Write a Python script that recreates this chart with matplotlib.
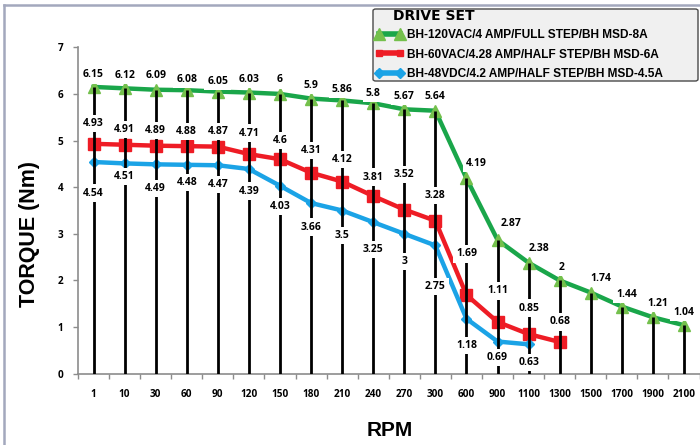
import matplotlib
matplotlib.use("Agg")
import matplotlib.pyplot as plt
import numpy as np
from matplotlib.lines import Line2D
from matplotlib.patches import FancyBboxPatch

# ---------------- data ----------------
rpm_labels = ["1", "10", "30", "60", "90", "120", "150", "180", "210", "240",
              "270", "300", "600", "900", "1100", "1300", "1500", "1700", "1900", "2100"]
torque_120vac = [6.15, 6.12, 6.09, 6.08, 6.05, 6.03, 6, 5.9, 5.86, 5.8,
                 5.67, 5.64, 4.19, 2.87, 2.38, 2, 1.74, 1.44, 1.21, 1.04]
torque_60vac = [4.93, 4.91, 4.89, 4.88, 4.87, 4.71, 4.6, 4.31, 4.12, 3.81,
                3.52, 3.28, 1.69, 1.11, 0.85, 0.68]
torque_48vdc = [4.54, 4.51, 4.49, 4.48, 4.47, 4.39, 4.03, 3.66, 3.5, 3.25,
                3, 2.75, 1.18, 0.69, 0.63]
series_names = ["BH-120VAC/4 AMP/FULL STEP/BH MSD-8A",
                "BH-60VAC/4.28 AMP/HALF STEP/BH MSD-6A",
                "BH-48VDC/4.2 AMP/HALF STEP/BH MSD-4.5A"]
legend_title = "DRIVE SET"

# label placement (pixel offsets of data labels from their points)
green_dy = [12, 13, 14, 11, 10, 13, 14, 13, 11, 10, 13, 14, 15, 16, 14, 13, 14, 12, 14, 13]
green_dx = [0, 0, 0, 0, 0, 0, 0, 0, 0, 0, 0, 0, 10, 14, 10, 2, 10, 5, 5, 0]
red_dy = [20, 15, 15, 15, 15, 21, 19, 22, 22, 19, 35, 25, 41, 31, 26, 20]
blue_dy = [-31, -13, -24, -18, -19, -22, -21, -24, -25, -27, -28, -41, -27, -16, -18]

GREEN = "#1aa64a"
GREEN_M = "#74c04c"
RED = "#ee1c25"
BLUE = "#1ba3e6"

W, H = 700, 445
fig = plt.figure(figsize=(W / 100, H / 100), dpi=100)
fig.patch.set_facecolor("white")

ax_l, ax_r = 78 / W, 699.5 / W
ax_b, ax_t = 1 - 373.7 / H, 1 - 47.3 / H
ax = fig.add_axes([ax_l, ax_b, ax_r - ax_l, ax_t - ax_b])

x = np.arange(len(rpm_labels))
lw = 3.2
ax.plot(x[:len(torque_120vac)], torque_120vac, color=GREEN, lw=lw, marker="^",
        ms=8, mfc=GREEN_M, mec=GREEN_M, zorder=2)
ax.plot(x[:len(torque_60vac)], torque_60vac, color=RED, lw=lw, marker="s",
        ms=8, mfc=RED, mec=RED, zorder=2)
ax.plot(x[:len(torque_48vdc)], torque_48vdc, color=BLUE, lw=lw, marker="D",
        ms=5, mfc=BLUE, mec=BLUE, zorder=2)

# drop lines
ax.vlines(x, 0, torque_120vac, color="black", lw=2, zorder=3)

lab_font = dict(family="Open Sans", weight="bold", size=7.5)
bbox = dict(boxstyle="square,pad=0.3", fc="white", ec="none")
px = 0.72


def add_labels(vals, dys, dxs=None):
    for i, v in enumerate(vals):
        dx = dxs[i] if dxs is not None else 0
        ax.annotate(f"{v:g}", (x[i], v), xytext=(dx * px, dys[i] * px),
                    textcoords="offset points", ha="center", va="center",
                    bbox=bbox, zorder=5, **lab_font)


add_labels(torque_120vac, green_dy, green_dx)
add_labels(torque_60vac, red_dy)
add_labels(torque_48vdc, blue_dy)

ax.set_xlim(-0.5, len(rpm_labels) - 0.5)
ax.set_ylim(0, 7)
ax.set_yticks(range(0, 8))
ax.set_xticks(x)
ax.set_xticklabels(rpm_labels)
ax.set_xticks(np.arange(-0.5, len(rpm_labels)), minor=True)
ax.tick_params(axis="x", which="major", length=0, pad=11)
ax.tick_params(axis="x", which="minor", length=3.5, width=1, color="#8c8c8c", direction="out")
ax.tick_params(axis="y", length=3.5, width=1, color="#8c8c8c", pad=7)
for lab in ax.get_xticklabels() + ax.get_yticklabels():
    lab.set_fontfamily("Open Sans")
    lab.set_fontweight("bold")
    lab.set_fontsize(7.2)
for s in ["top", "right"]:
    ax.spines[s].set_visible(False)
for s in ["left", "bottom"]:
    ax.spines[s].set_color("#8c8c8c")
    ax.spines[s].set_linewidth(1.2)
ax.set_facecolor("none")

fig.text(30 / W, 1 - 234 / H, "TORQUE (Nm)", rotation=90, ha="center", va="center",
         family="Liberation Sans", weight="bold", fontsize=15.5)
fig.text(390 / W, 1 - 431 / H, "RPM", ha="center", va="center",
         family="Liberation Sans", weight="bold", fontsize=15)

# figure frame (top and left)
fig.add_artist(Line2D([4 / W, 4 / W], [0, 1 - 5 / H], color="#a3a8bd", lw=1.8,
                      transform=fig.transFigure))
fig.add_artist(Line2D([4 / W, 1], [1 - 5 / H, 1 - 5 / H], color="#a3a8bd", lw=1.8,
                      transform=fig.transFigure))

# legend box
lx0, ly0, lx1, ly1 = 373, 9, 698, 81
fig.add_artist(FancyBboxPatch((lx0 / W, 1 - ly1 / H), (lx1 - lx0) / W, (ly1 - ly0) / H,
                              boxstyle="round,pad=0,rounding_size=0.004",
                              transform=fig.transFigure, fc="#f0f0f0", ec="#4a4a4a",
                              lw=1.0, zorder=6))
fig.text(393 / W, 1 - 16.5 / H, legend_title, ha="left", va="center",
         family="DejaVu Sans", weight="bold", fontsize=10, zorder=7)
handles = [
    Line2D([], [], color=GREEN, lw=4, marker="^", ms=8, mfc=GREEN_M, mec=GREEN_M),
    Line2D([], [], color=RED, lw=4, marker="s", ms=5, mfc=RED, mec=RED),
    Line2D([], [], color=BLUE, lw=4, marker="D", ms=5, mfc=BLUE, mec=BLUE),
]
leg = fig.legend(handles, series_names, loc="upper left",
                 bbox_to_anchor=(374 / W, 1 - 28 / H), frameon=False,
                 prop=dict(family="Liberation Sans", weight="bold", size=8.6),
                 handlelength=2.4, handletextpad=0.25, labelspacing=0.62,
                 borderpad=0.1, borderaxespad=0, numpoints=2)
leg.set_zorder(8)

fig.savefig("out.png", dpi=100, facecolor="white")
